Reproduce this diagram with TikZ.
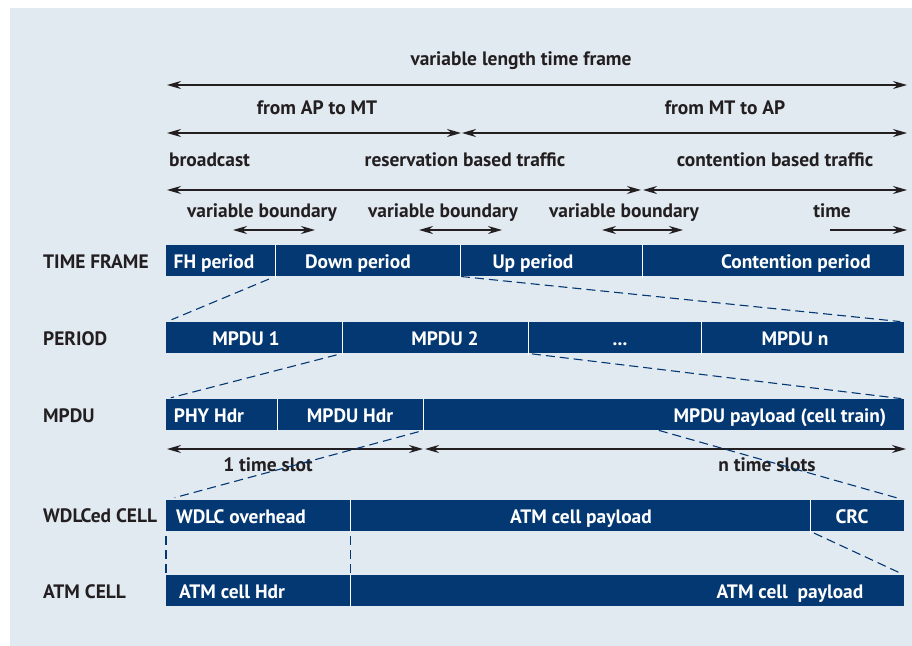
\documentclass[tikz,border=0pt]{standalone}
\usepackage{fontspec}
\setmainfont{PT Sans}
\usetikzlibrary{arrows.meta,positioning,calc}
\definecolor{panelbg}{RGB}{225,233,241}
\definecolor{boxblue}{RGB}{3,56,114}
\definecolor{inkgray}{RGB}{35,31,32}

\begin{document}
\begin{tikzpicture}[
        x=1bp, y=-1bp,
    seg/.style={
        rectangle,
        fill=boxblue,
        inner sep=0pt,
        minimum height=31bp,
        anchor=north west},
    segtext/.style={
        anchor=base,
        text=white,
        inner sep=0pt,
        font=\bfseries\fontsize{19.5}{21}\selectfont},
    rowlabel/.style={
        anchor=base west,
        text=inkgray,
        inner sep=0pt,
        font=\bfseries\fontsize{19.5}{21}\selectfont},
    toplabel/.style={
        anchor=base,
        text=inkgray,
        inner sep=0pt,
        font=\bfseries\fontsize{19.5}{21}\selectfont},
    myarrow/.style={>={Stealth[length=14bp,width=8bp]}, <->,
        line width=1.5bp, draw=inkgray},
    splitline/.style={draw=boxblue, line width=1.1bp, dash pattern=on 9bp off 5bp}
    ]
    \useasboundingbox (0,0) rectangle (912,646);
    \fill[panelbg] (10,8) rectangle (912,646);

    % rows of segments: name/left/right/top/text x/text
    \foreach \nm/\xa/\xb/\yt/\tx/\txt in {
        fh/166/275/245/214/{FH period},
        down/275/460/245/358/{Down period},
        up/460/642/245/533/{Up period},
        cont/642/904/245/796/{Contention period},
        mp1/166/342/322/246/{MPDU 1},
        mp2/342/528/322/445/{MPDU 2},
        mpdots/528/701/322/620/{...},
        mpn/701/904/322/795/{MPDU n},
        phy/166/277/399/209/{PHY Hdr},
        mhdr/277/423/399/350/{MPDU Hdr},
        pay/423/904/399/780/{MPDU payload (cell train)},
        wdlc/166/350/500/241/{WDLC overhead},
        cellpay/350/810/500/581/{ATM cell payload},
        crc/810/904/500/852/{CRC},
        atmhdr/166/350/575/232/{ATM cell Hdr},
        atmpay/350/904/575/790/{ATM cell\ \ payload}}
    {
        \pgfmathsetmacro\w{\xb-\xa}
        \node[seg, minimum width=\w bp] (\nm) at (\xa,\yt) {};
        \node[segtext] (\nm-t) at (\tx,\yt+23.5) {\txt};
    }

    % white dividers
    \foreach \nm/\ext in {fh/2,down/2,up/2,mp1/2,mp2/2,mpdots/2,phy/1,mhdr/1,wdlc/1,cellpay/4,atmhdr/1}
        \draw[white, line width=1.8bp] (\nm.north east) -- ([yshift=-\ext bp]\nm.south east);

    % row names
    \node[rowlabel] (l-tf) at (43,269) {TIME FRAME};
    \node[rowlabel] (l-per) at (43,345) {PERIOD};
    \node[rowlabel] (l-mpdu) at (43,422) {MPDU};
    \node[rowlabel] (l-wdlc) at (43,522) {WDLCed CELL};
    \node[rowlabel] (l-atm) at (43,598) {ATM CELL};

    % labels over the arrows
    \node[toplabel] (t-frame) at (521,66) {variable length time frame};
    \node[toplabel] (t-apmt) at (317,115) {from AP to MT};
    \node[toplabel] (t-mtap) at (725,115) {from MT to AP};
    \node[toplabel, anchor=base west] (t-bc) at (169,167) {broadcast};
    \node[toplabel] (t-res) at (465,167) {reservation based traffic};
    \node[toplabel] (t-cont) at (775,167) {contention based traffic};
    \node[toplabel] (t-vb1) at (262,218) {variable boundary};
    \node[toplabel] (t-vb2) at (443,218) {variable boundary};
    \node[toplabel] (t-vb3) at (624,218) {variable boundary};
    \node[toplabel] (t-time) at (832,218) {time};
    \node[toplabel] (t-slot1) at (268,471) {1 time slot};
    \node[toplabel] (t-slotn) at (767,471) {n time slots};

    % double arrows: name/left/right/y
    \foreach \nm/\xa/\xb/\yy in {
        a-frame/167/907/85,
        a-apmt/167/461/133,
        a-mtap/462/907/133,
        a-bc/167/641/190,
        a-cont/643/907/190,
        a-vb1/233/315/230,
        a-vb2/419/502/230,
        a-vb3/602/683/230,
        a-slot1/167/423/449,
        a-slotn/425/906/449}
    {
        \coordinate (\nm-l) at (\xa,\yy);
        \coordinate (\nm-r) at (\xb,\yy);
        \draw[myarrow] (\nm-l) -- (\nm-r);
    }
    \coordinate (a-time-l) at (830,230);
    \coordinate (a-time-r) at (907,230);
    \draw[myarrow, ->] (a-time-l) -- (a-time-r);

    % dashed zoom lines
    \draw[splitline, shorten <=7bp, shorten >=6bp] (fh.south east) -- (mp1.north west);
    \draw[splitline, shorten <=1bp, shorten >=4bp] (up.south west) -- (mpn.north east);
    \draw[splitline, shorten <=6bp, shorten >=5bp] (mp1.south east) -- (phy.north west);
    \draw[splitline, shorten <=4bp, shorten >=3bp] (mpdots.south west) -- (pay.north east);
    \draw[splitline, shorten <=5bp, shorten >=9bp] (mhdr.south east) -- (wdlc.north west);
    \draw[splitline, shorten >=4bp] ($(pay.south west)!0.49!(pay.south east)$) -- (crc.north east);
    \draw[splitline, shorten <=5bp, shorten >=2bp] (wdlc.south west) -- (atmhdr.north west);
    \draw[splitline, shorten <=5bp, shorten >=2bp] (wdlc.south east) -- (atmhdr.north east);
    \draw[splitline, shorten <=4bp, shorten >=6bp] (cellpay.south east) -- (atmpay.north east);
\end{tikzpicture}
\end{document}
